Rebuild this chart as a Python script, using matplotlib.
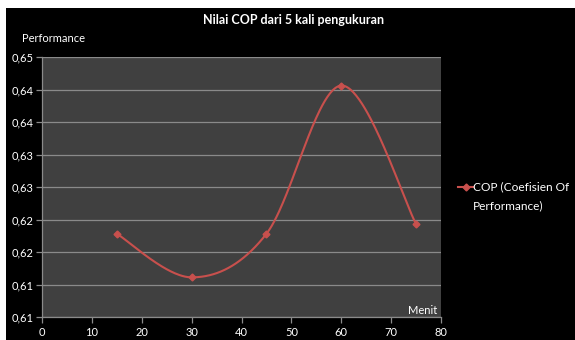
import numpy as np
import matplotlib
matplotlib.use("Agg")
import matplotlib.pyplot as plt
from matplotlib.patches import Rectangle

plt.rcParams['font.family'] = ['Lato', 'DejaVu Sans']

# Data
menit = [15, 30, 45, 60, 75]
cop = [0.6228, 0.6161, 0.6228, 0.6456, 0.6243]
yticks = [0.610, 0.615, 0.620, 0.625, 0.630, 0.635, 0.640, 0.645, 0.650]
ytick_labels = ["0,61", "0,61", "0,62", "0,62", "0,63", "0,63", "0,64", "0,64", "0,65"]
xticks = [0, 10, 20, 30, 40, 50, 60, 70, 80]
title = "Nilai COP dari 5 kali pengukuran"
series_label = ["COP (Coefisien Of", "Performance)"]

W, H = 575, 340
fig = plt.figure(figsize=(W / 100, H / 100), dpi=100)
fig.patch.set_facecolor('white')
fig.patches.append(Rectangle((6 / W, 0), 1 - 6 / W, 1 - 8 / H, transform=fig.transFigure,
                             facecolor='black', edgecolor='none', zorder=-10))

ax = fig.add_axes([42 / W, 23 / H, (441 - 42) / W, (317 - 57) / H])
ax.set_facecolor('#404040')


def smooth(xs, ys, n=60):
    P = np.column_stack([xs, ys]).astype(float)
    ext = np.vstack([P[0], P, P[-1]])
    out = []
    for i in range(len(P) - 1):
        p0, p1, p2, p3 = ext[i], ext[i + 1], ext[i + 2], ext[i + 3]
        c1 = p1 + (p2 - p0) / 6
        c2 = p2 - (p3 - p1) / 6
        t = np.linspace(0, 1, n)[:, None]
        b = ((1 - t) ** 3) * p1 + 3 * ((1 - t) ** 2) * t * c1 + 3 * (1 - t) * t ** 2 * c2 + t ** 3 * p2
        out.append(b if i == 0 else b[1:])
    B = np.vstack(out)
    return B[:, 0], B[:, 1]


sx = (441 - 42) / 80.0
sy = (317 - 57) / 0.04
xs_s, ys_s = smooth(np.array(menit) * sx, np.array(cop) * sy)
red = '#C8504D'
ax.plot(xs_s / sx, ys_s / sy, color=red, lw=1.5, zorder=3)
ax.plot(menit, cop, linestyle='none', marker='D', markersize=3.5, color=red, zorder=4)

ax.set_xlim(0, 80)
ax.set_ylim(0.61, 0.65)
ax.set_yticks(yticks)
ax.set_yticklabels(ytick_labels)
ax.set_xticks(xticks)
ax.grid(axis='y', color='#8a8a8a', lw=0.9)
ax.set_axisbelow(True)
for s in ['top', 'right']:
    ax.spines[s].set_visible(False)
for s in ['left', 'bottom']:
    ax.spines[s].set_color('#8a8a8a')
    ax.spines[s].set_linewidth(0.9)
ax.tick_params(colors='#8a8a8a', labelcolor='white', labelsize=8, length=4, width=0.9, direction='out')
ax.tick_params(axis='x', pad=3)
ax.tick_params(axis='y', pad=2)

fig.text(294 / W, 1 - 20 / H, title, color='white', fontsize=9, fontweight='bold', ha='center', va='center')
fig.text(22 / W, 1 - 38 / H, "Performance", color='white', fontsize=8, ha='left', va='center')
fig.text(423 / W, 1 - 316 / H, "Menit", color='white', fontsize=8, ha='center', va='bottom')

# legend
fig.lines.append(plt.Line2D([458 / W, 473 / W], [1 - 187 / H] * 2, transform=fig.transFigure, color=red, lw=1.5))
fig.lines.append(plt.Line2D([465.5 / W], [1 - 187 / H], transform=fig.transFigure, color=red, marker='D', markersize=3.5))
fig.text(473 / W, 1 - 187 / H, series_label[0], color='white', fontsize=8.6, ha='left', va='center')
fig.text(473 / W, 1 - 206 / H, series_label[1], color='white', fontsize=8.6, ha='left', va='center')

fig.savefig('out.png', dpi=100, facecolor=fig.get_facecolor())
